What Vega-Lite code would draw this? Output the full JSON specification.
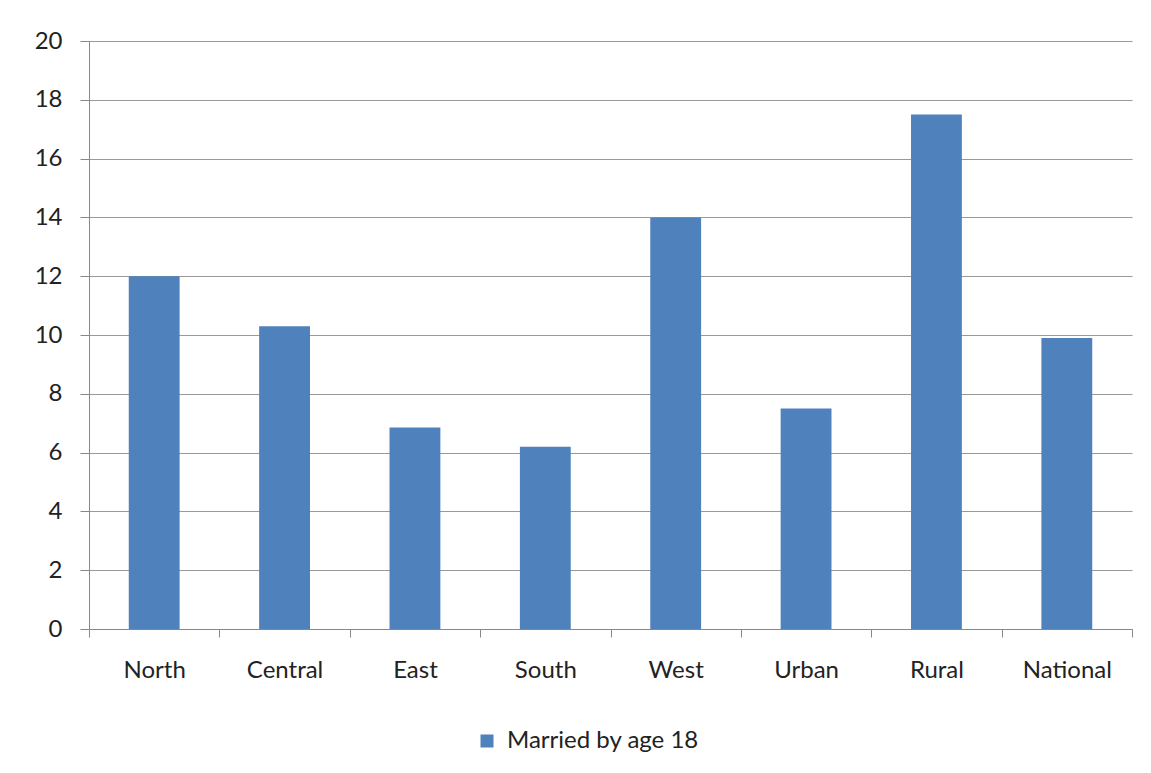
{
  "$schema": "https://vega.github.io/schema/vega-lite/v6.json",
  "autosize": {"type": "none"},
  "width": 1043,
  "height": 588,
  "padding": {"left": 89, "top": 41, "right": 19, "bottom": 144},
  "background": "white",
  "view": {"stroke": null},
  "data": {
    "values": [
      {"region": "North", "pct": 12.0},
      {"region": "Central", "pct": 10.3},
      {"region": "East", "pct": 6.85},
      {"region": "South", "pct": 6.2},
      {"region": "West", "pct": 14.0},
      {"region": "Urban", "pct": 7.5},
      {"region": "Rural", "pct": 17.5},
      {"region": "National", "pct": 9.9}
    ]
  },
  "mark": {"type": "bar", "width": {"band": 0.39}},
  "encoding": {
    "x": {
      "field": "region",
      "type": "nominal",
      "sort": null,
      "scale": {"paddingInner": 0, "paddingOuter": 0},
      "axis": {
        "title": null,
        "labelAngle": 0,
        "tickBand": "extent",
        "tickSize": 8,
        "tickColor": "#888888",
        "domainColor": "#888888",
        "labelPadding": 21,
        "grid": false
      }
    },
    "y": {
      "field": "pct",
      "type": "quantitative",
      "scale": {"domain": [0, 20]},
      "axis": {
        "title": null,
        "values": [0, 2, 4, 6, 8, 10, 12, 14, 16, 18, 20],
        "tickSize": 9,
        "tickColor": "#888888",
        "domainColor": "#888888",
        "gridColor": "#999999",
        "labelPadding": 18
      }
    },
    "color": {
      "datum": "Married by age 18",
      "type": "nominal",
      "scale": {"range": ["#4F81BD"]},
      "legend": {
        "title": null,
        "orient": "none",
        "legendX": 386,
        "legendY": 688,
        "symbolType": "square",
        "symbolSize": 169,
        "symbolStrokeWidth": 0,
        "labelOffset": 8,
        "labelLimit": 0,
        "labelFontSize": 24,
        "labelColor": "#222222",
        "labelFont": "Lato"
      }
    }
  },
  "config": {
    "axis": {
      "labelFont": "Lato",
      "labelFontSize": 24,
      "labelColor": "#222222",
      "gridWidth": 1,
      "domainWidth": 1
    }
  }
}
